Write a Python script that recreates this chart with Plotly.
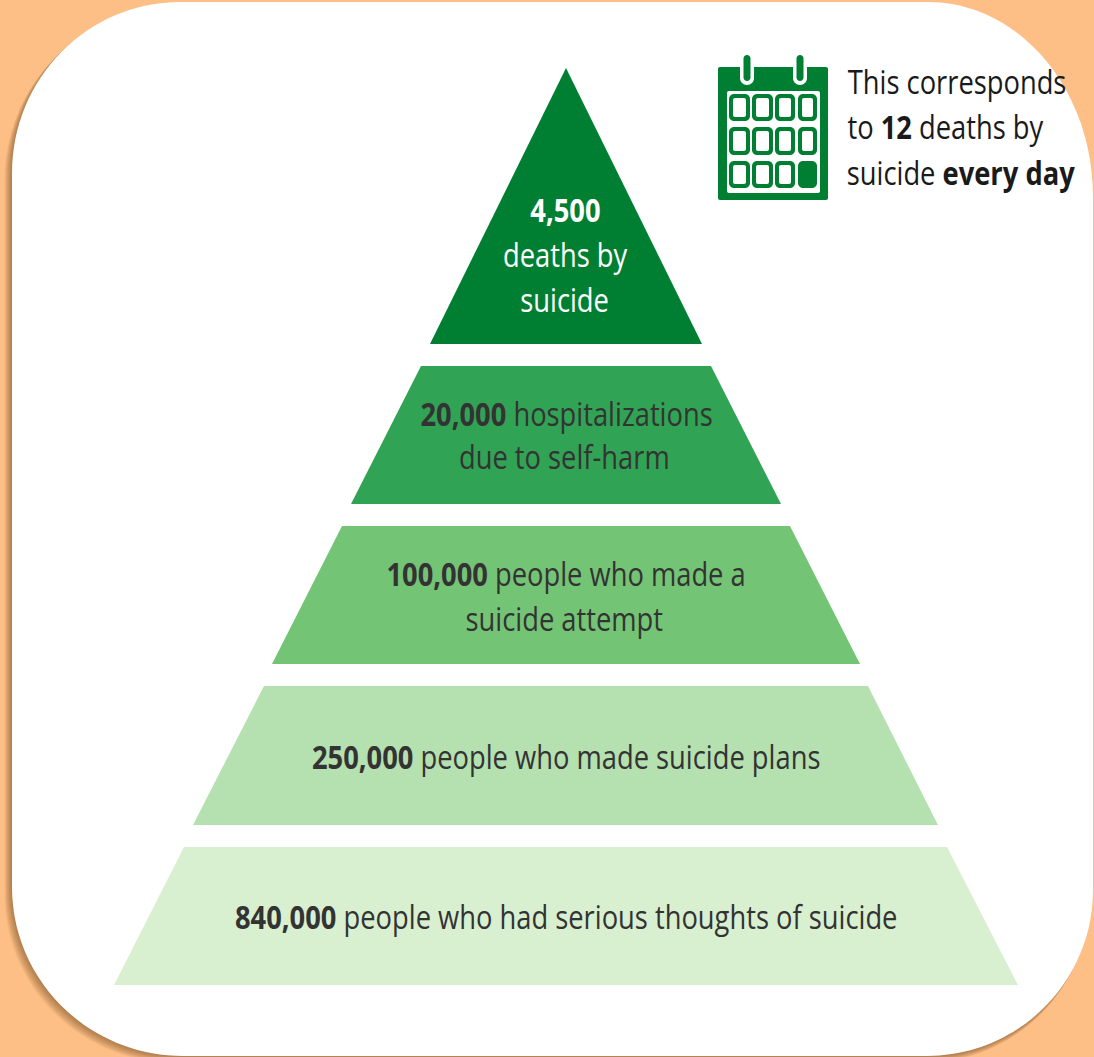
import plotly.graph_objects as go

# Pyramid tiers, apex first
tier_top = [68, 366, 526, 686, 847]
tier_bottom = [344, 504, 664, 825, 985]
tier_top_left = [566, 421, 342, 264, 184]
tier_top_right = [566, 711, 790, 868, 947]
tier_bottom_left = [430, 351, 272, 193, 114]
tier_bottom_right = [702, 781, 860, 938, 1018]
tier_colors = ["#007F33", "#31A354", "#74C476", "#B5E0AF", "#D9F0D0"]
tier_names = [
    "deaths by suicide",
    "hospitalizations due to self-harm",
    "people who made a suicide attempt",
    "people who made suicide plans",
    "people who had serious thoughts of suicide",
]

# One entry per text line: text, centre x, centre y, colour
DARK = "#333333"
tier_labels = [
    ("<b>4,500</b>", 565.5, 209, "#FFFFFF"),
    ("deaths by", 565, 254, "#FFFFFF"),
    ("suicide", 564.5, 299, "#FFFFFF"),
    ("<b>20,000</b> hospitalizations", 566, 413, DARK),
    ("due to self-harm", 564.5, 456, DARK),
    ("<b>100,000</b> people who made a", 565.5, 573, DARK),
    ("suicide attempt", 564.5, 618, DARK),
    ("<b>250,000</b> people who made suicide plans", 566, 756, DARK),
    ("<b>840,000</b> people who had serious thoughts of suicide", 566, 916, DARK),
]
callout_lines = [
    ("This corresponds", 957, 81, "#1A1A1A"),
    ("to <b>12</b> deaths by", 945, 126, "#1A1A1A"),
    ("suicide <b>every day</b>", 961, 172, "#1A1A1A"),
]

ORANGE = "#FDBF85"
ICON_GREEN = "#007F33"
SHADOW = "rgb(90,50,20)"
KAPPA = 0.5523


def rounded(x0, y0, x1, y1, r):
    """Path for a rectangle with equal rounded corners."""
    return card(x0, y0, x1, y1, [(r, r)] * 4)


def card(x0, y0, x1, y1, radii):
    """Rectangle path with elliptical corners, clockwise from the top left."""
    (tl_x, tl_y), (tr_x, tr_y), (br_x, br_y), (bl_x, bl_y) = radii
    c = 1 - KAPPA
    return (
        f"M{x0 + tl_x},{y0} L{x1 - tr_x},{y0} "
        f"C{x1 - tr_x * c},{y0} {x1},{y0 + tr_y * c} {x1},{y0 + tr_y} "
        f"L{x1},{y1 - br_y} C{x1},{y1 - br_y * c} {x1 - br_x * c},{y1} {x1 - br_x},{y1} "
        f"L{x0 + bl_x},{y1} C{x0 + bl_x * c},{y1} {x0},{y1 - bl_y * c} {x0},{y1 - bl_y} "
        f"L{x0},{y0 + tl_y} C{x0},{y0 + tl_y * c} {x0 + tl_x * c},{y0} {x0 + tl_x},{y0} Z"
    )


def fill_path(path, color, layer="above", opacity=1):
    return dict(type="path", path=path, fillcolor=color, line_width=0,
                layer=layer, opacity=opacity, xref="x", yref="y")


card_radii = [(168, 171), (165, 195), (166, 166), (171, 169)]
shapes = []

# Soft shadow falling to the lower left of the card, then the card itself
for step in range(1, 11):
    dx, dy = -step * 0.75, step * 0.7
    shapes.append(fill_path(card(12 + dx, 2 + dy, 1093 + dx * 0.5, 1056 + dy, card_radii),
                            SHADOW, layer="below", opacity=0.055))
shapes.append(fill_path(card(12, 2, 1093, 1056, card_radii), "#FFFFFF", layer="below"))

# Calendar icon: body, page, binder rings
shapes.append(fill_path(rounded(718, 67, 828, 200, 2), ICON_GREEN))
shapes.append(fill_path(rounded(727, 91, 820, 193, 2), "#FFFFFF"))
for ring_x in (747, 800):
    shapes.append(fill_path(rounded(ring_x - 7, 51, ring_x + 7, 85, 7), "#FFFFFF"))
    shapes.append(fill_path(rounded(ring_x - 3.5, 55, ring_x + 3.5, 81, 3.5), ICON_GREEN))

# Calendar day cells; the last day is filled in
cell_columns = [(729, 750), (752, 773), (775, 795), (798, 817)]
cell_rows = [(94, 121), (127, 155), (161, 188)]
for row, (cy0, cy1) in enumerate(cell_rows):
    for col, (cx0, cx1) in enumerate(cell_columns):
        shapes.append(fill_path(rounded(cx0, cy0, cx1, cy1, 5), ICON_GREEN))
        if not (row == 2 and col == 3):
            shapes.append(fill_path(rounded(cx0 + 4, cy0 + 4, cx1 - 4, cy1 - 4, 2), "#FFFFFF"))

fig = go.Figure()

for i, name in enumerate(tier_names):
    fig.add_trace(go.Scatter(
        x=[tier_top_left[i], tier_top_right[i], tier_bottom_right[i], tier_bottom_left[i], tier_top_left[i]],
        y=[tier_top[i], tier_top[i], tier_bottom[i], tier_bottom[i], tier_top[i]],
        mode="lines", fill="toself", fillcolor=tier_colors[i],
        line=dict(width=0, color=tier_colors[i]), name=name, hoverinfo="name",
    ))

for text, x, y, color in tier_labels + callout_lines:
    fig.add_annotation(x=x, y=y, text=text, showarrow=False, xanchor="center", yanchor="middle",
                       font=dict(family="Open Sans", size=33, color=color))

fig.update_layout(
    width=1094, height=1057, margin=dict(l=0, r=0, t=0, b=0),
    paper_bgcolor=ORANGE, plot_bgcolor="rgba(0,0,0,0)", showlegend=False, shapes=shapes,
    xaxis=dict(range=[0, 1094], visible=False, fixedrange=True),
    yaxis=dict(range=[1057, 0], visible=False, fixedrange=True),
)

# The lettering is set narrow: squeeze each annotation line about its own centre
narrow_text = """
document.querySelectorAll('text.annotation-text').forEach(function (t) {
  var b = t.getBBox();
  var c = b.x + b.width / 2;
  t.setAttribute('transform', 'translate(' + c + ',0) scale(0.828,1) translate(' + (-c) + ',0)');
});
"""

fig.write_html("out.html", post_script=narrow_text, config={"displayModeBar": False})
